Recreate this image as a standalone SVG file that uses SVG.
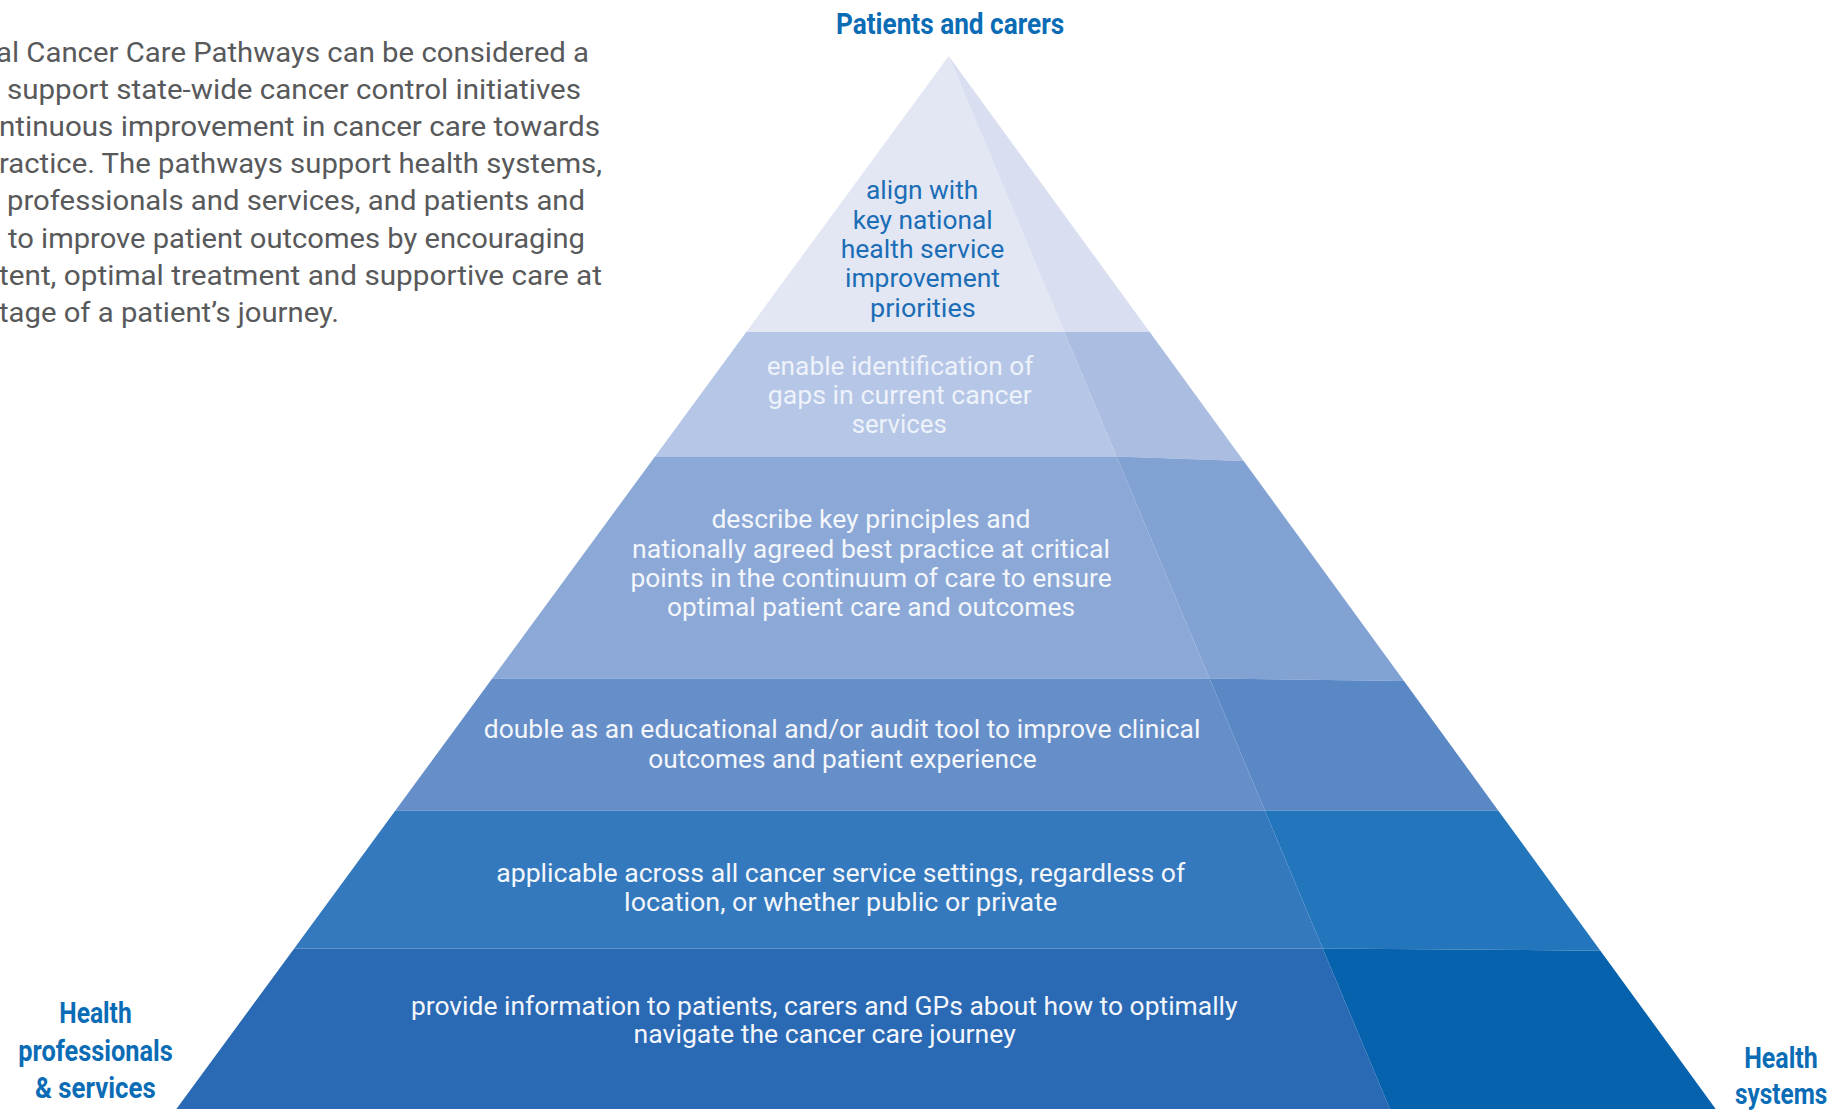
<svg xmlns="http://www.w3.org/2000/svg" width="1837" height="1111" viewBox="0 0 1837 1111">
<style>
.para{font-family:Roboto,"Liberation Sans",sans-serif;font-size:28px;fill:#58595b}
.lbl{font-family:Roboto,"Liberation Sans",sans-serif;font-size:30px;font-weight:bold;fill:#0b6cb6}
.t{font-family:Roboto,"Liberation Sans",sans-serif;font-size:25px}
.dk{fill:#1b6db6}
.lt{fill:#f3f6fb}
.lt2{fill:#eef2fa}
</style>
<rect width="1837" height="1111" fill="#ffffff"/>
<g id="intro-text">
<text class="para" x="-4" y="61.7" textLength="593" lengthAdjust="spacingAndGlyphs">al Cancer Care Pathways can be considered a</text>
<text class="para" x="7" y="98.5" textLength="574" lengthAdjust="spacingAndGlyphs">support state-wide cancer control initiatives</text>
<text class="para" x="-1" y="135.5" textLength="601" lengthAdjust="spacingAndGlyphs">ntinuous improvement in cancer care towards</text>
<text class="para" x="-1" y="173" textLength="603" lengthAdjust="spacingAndGlyphs">ractice. The pathways support health systems,</text>
<text class="para" x="7" y="210" textLength="578" lengthAdjust="spacingAndGlyphs">professionals and services, and patients and</text>
<text class="para" x="8" y="247.5" textLength="577" lengthAdjust="spacingAndGlyphs">to improve patient outcomes by encouraging</text>
<text class="para" x="-1" y="284.5" textLength="603" lengthAdjust="spacingAndGlyphs">tent, optimal treatment and supportive care at</text>
<text class="para" x="-1" y="321.7" textLength="340" lengthAdjust="spacingAndGlyphs">tage of a patient’s journey.</text>
</g>
<g id="layer1">
<polygon points="948.7,56 1064.3,332 746.3,332" fill="#e3e7f4"/>
<polygon points="948.7,56 1149.7,332 1064.3,332" fill="#d9dff0"/>
<text class="t dk" x="866" y="199.3" textLength="112.3" lengthAdjust="spacingAndGlyphs">align with</text>
<text class="t dk" x="852.7" y="229" textLength="140" lengthAdjust="spacingAndGlyphs">key national</text>
<text class="t dk" x="840.7" y="258.3" textLength="163.6" lengthAdjust="spacingAndGlyphs">health service</text>
<text class="t dk" x="845" y="287" textLength="155" lengthAdjust="spacingAndGlyphs">improvement</text>
<text class="t dk" x="870" y="316.7" textLength="105.7" lengthAdjust="spacingAndGlyphs">priorities</text>
</g>
<g id="layer2">
<polygon points="746.3,332 1064.3,332 1116.5,456.5 655,456.5" fill="#b5c6e6"/>
<polygon points="1064.3,332 1149.7,332 1243.7,461 1116.5,456.5" fill="#abbee1"/>
<text class="t lt2" x="766.7" y="375" textLength="266.6" lengthAdjust="spacingAndGlyphs">enable identification of</text>
<text class="t lt2" x="767.7" y="404" textLength="264" lengthAdjust="spacingAndGlyphs">gaps in current cancer</text>
<text class="t lt2" x="851.7" y="433.3" textLength="95" lengthAdjust="spacingAndGlyphs">services</text>
</g>
<g id="layer3">
<polygon points="655,456.5 1116.5,456.5 1209.5,678.5 492.2,678.5" fill="#8ba8d7"/>
<polygon points="1116.5,456.5 1243.7,461 1404,681 1209.5,678.5" fill="#81a2d2"/>
<text class="t lt" x="711.4" y="528.3" textLength="319" lengthAdjust="spacingAndGlyphs">describe key principles and</text>
<text class="t lt" x="632" y="558.3" textLength="478" lengthAdjust="spacingAndGlyphs">nationally agreed best practice at critical</text>
<text class="t lt" x="630.4" y="587.3" textLength="481.4" lengthAdjust="spacingAndGlyphs">points in the continuum of care to ensure</text>
<text class="t lt" x="667" y="616" textLength="408" lengthAdjust="spacingAndGlyphs">optimal patient care and outcomes</text>
</g>
<g id="layer4">
<polygon points="492.2,678.5 1209.5,678.5 1264.9,810.7 395.2,810.7" fill="#668ec8"/>
<polygon points="1209.5,678.5 1404,681 1498.4,810.7 1264.9,810.7" fill="#5a88c5"/>
<text class="t lt" x="483.8" y="738.3" textLength="716.6" lengthAdjust="spacingAndGlyphs">double as an educational and/or audit tool to improve clinical</text>
<text class="t lt" x="648.2" y="767.7" textLength="388.4" lengthAdjust="spacingAndGlyphs">outcomes and patient experience</text>
</g>
<g id="layer5">
<polygon points="395.2,810.7 1264.9,810.7 1322.7,948.5 294.2,948.5" fill="#3479bd"/>
<polygon points="1264.9,810.7 1498.4,810.7 1600.4,950.7 1322.7,948.5" fill="#2375bc"/>
<text class="t lt" x="496.2" y="881.7" textLength="689.1" lengthAdjust="spacingAndGlyphs">applicable across all cancer service settings, regardless of</text>
<text class="t lt" x="624.1" y="911" textLength="433.2" lengthAdjust="spacingAndGlyphs">location, or whether public or private</text>
</g>
<g id="layer6">
<polygon points="294.2,948.5 1322.7,948.5 1389.9,1109 176.4,1109" fill="#2a69b4"/>
<polygon points="1322.7,948.5 1600.4,950.7 1715.7,1109 1389.9,1109" fill="#0762ad"/>
<text class="t lt" x="410.9" y="1015" textLength="826.6" lengthAdjust="spacingAndGlyphs">provide information to patients, carers and GPs about how to optimally</text>
<text class="t lt" x="633.6" y="1043.3" textLength="382.2" lengthAdjust="spacingAndGlyphs">navigate the cancer care journey</text>
</g>
<g id="label-patients">
<text class="lbl" x="836" y="34.3" textLength="228.3" lengthAdjust="spacingAndGlyphs">Patients and carers</text>
</g>
<g id="label-professionals">
<text class="lbl" x="59.3" y="1023.3" textLength="72.4" lengthAdjust="spacingAndGlyphs">Health</text>
<text class="lbl" x="18.3" y="1060.5" textLength="154.4" lengthAdjust="spacingAndGlyphs">professionals</text>
<text class="lbl" x="35" y="1098.3" textLength="120.7" lengthAdjust="spacingAndGlyphs">&amp; services</text>
</g>
<g id="label-systems">
<text class="lbl" x="1744.2" y="1068.3" textLength="73.6" lengthAdjust="spacingAndGlyphs">Health</text>
<text class="lbl" x="1735" y="1104" textLength="92.4" lengthAdjust="spacingAndGlyphs">systems</text>
</g>
<g id="connectors"/>
</svg>
